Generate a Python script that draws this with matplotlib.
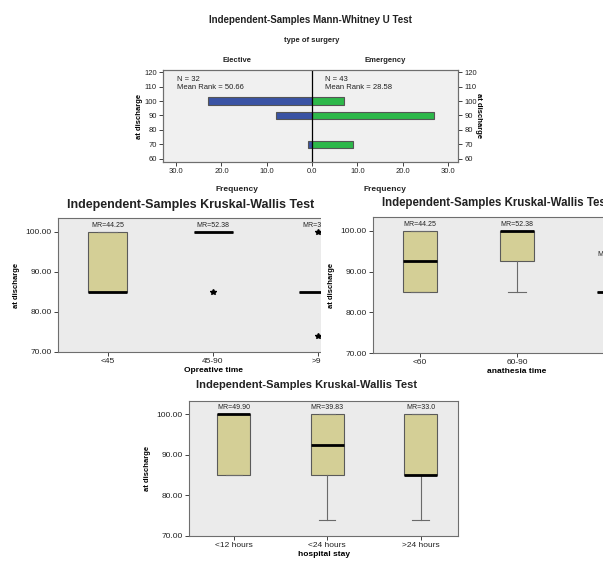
import matplotlib
matplotlib.use("Agg")
import matplotlib.pyplot as plt
from matplotlib.patches import Rectangle

plt.rcParams['font.family'] = ['Liberation Sans', 'DejaVu Sans']

W, H = 603, 562

# ---------------- data ----------------
mw_levels = [100, 90, 70]
mw_elective = [23, 8, 1]
mw_emergency = [7, 27, 9]
mw_groups = ["Elective", "Emergency"]
mw_n = [32, 43]
mw_mean_rank = ["50.66", "28.58"]
mw_yticks = [60, 70, 80, 90, 100, 110, 120]
mw_xticks = [-30, -20, -10, 0, 10, 20, 30]

op_cats = ["<45", "45-90", ">90"]
op_q1 = [85, 100, 85]
op_med = [85, 100, 85]
op_q3 = [100, 100, 85]
op_wlo = [85, 100, 85]
op_whi = [100, 100, 85]
op_fliers = [[], [85], [100, 74]]
op_mr = ["44.25", "52.38", "30.67"]

an_cats = ["<60", "60-90", ">90"]
an_q1 = [85, 92.5, 85]
an_med = [92.5, 100, 85]
an_q3 = [100, 100, 85]
an_wlo = [85, 85, 85]
an_whi = [100, 100, 92.5]
an_fliers = [[], [], []]
an_mr = ["44.25", "52.38", "30.67"]

hs_cats = ["<12 hours", "<24 hours", ">24 hours"]
hs_q1 = [85, 85, 85]
hs_med = [100, 92.5, 85]
hs_q3 = [100, 100, 100]
hs_wlo = [85, 74, 74]
hs_whi = [100, 100, 100]
hs_fliers = [[], [], []]
hs_mr = ["49.90", "39.83", "33.0"]

kw_yticks = [70, 80, 90, 100]

# ---------------- styles ----------------
BG_MW = '#F0F0F0'
BG_KW = '#EBEBEB'
BOX = '#D4CF96'
EDGE = '#5A5A5A'
WHISK = '#6A6A6A'
SPINE = '#6E6E6E'
BLUE = '#3A53A4'
GREEN = '#2DB84A'
TXT = '#222222'

fig = plt.figure(figsize=(W / 100, H / 100), dpi=100)
fig.patch.set_facecolor('white')


def rect(l, t, r, b):
    return [l / W, 1 - b / H, (r - l) / W, (b - t) / H]


def ftext(x, y, s, **kw):
    fig.text(x / W, 1 - y / H, s, **kw)


def style_spines(ax):
    for sp in ax.spines.values():
        sp.set_color(SPINE)
        sp.set_linewidth(0.8)


# ---------------- Mann-Whitney panel ----------------
ax = fig.add_axes(rect(163, 70, 458, 162))
ax.set_facecolor(BG_MW)
ax.barh(mw_levels, [-v for v in mw_elective], height=5, color=BLUE,
        edgecolor='#555555', linewidth=0.8, zorder=3)
ax.barh(mw_levels, mw_emergency, height=5, color=GREEN,
        edgecolor='#555555', linewidth=0.8, zorder=3)
ax.axvline(0, color='black', linewidth=0.9, zorder=4)
ax.set_xlim(-32.9, 32.2)
ax.set_ylim(57.9, 121.4)
ax.set_xticks(mw_xticks)
ax.set_xticklabels([f"{abs(v):.1f}" for v in mw_xticks])
ax.set_yticks(mw_yticks)
ax.tick_params(labelsize=5.5, colors=TXT, length=3, width=0.6, pad=1.5)
ax.set_ylabel("at discharge", fontsize=5.5, fontweight='bold', labelpad=1)
style_spines(ax)
ax2 = ax.twinx()
ax2.set_ylim(ax.get_ylim())
ax2.set_yticks(mw_yticks)
ax2.tick_params(labelsize=5.5, colors=TXT, length=3, width=0.6, pad=1.5)
ax2.set_ylabel("at discharge", fontsize=5.5, fontweight='bold', rotation=270, labelpad=4)
style_spines(ax2)

ax.text(-29.8, 114.5, f"N = {mw_n[0]}", fontsize=5.5, va='center', ha='left', color=TXT)
ax.text(-29.8, 109.0, f"Mean Rank = {mw_mean_rank[0]}", fontsize=5.5, va='center', ha='left', color=TXT)
ax.text(2.9, 114.5, f"N = {mw_n[1]}", fontsize=5.5, va='center', ha='left', color=TXT)
ax.text(2.9, 109.0, f"Mean Rank = {mw_mean_rank[1]}", fontsize=5.5, va='center', ha='left', color=TXT)

ftext(310, 20, "Independent-Samples Mann-Whitney U Test", fontsize=7, fontweight='bold',
      ha='center', va='center', color=TXT)
ftext(312, 40, "type of surgery", fontsize=5.5, fontweight='bold', ha='center', va='center', color=TXT)
ftext(237, 61, mw_groups[0], fontsize=5.5, fontweight='bold', ha='center', va='center', color=TXT)
ftext(385, 61, mw_groups[1], fontsize=5.5, fontweight='bold', ha='center', va='center', color=TXT)
ftext(237, 189, "Frequency", fontsize=6, fontweight='bold', ha='center', va='center', color=TXT)
ftext(385, 189, "Frequency", fontsize=6, fontweight='bold', ha='center', va='center', color=TXT)


# ---------------- Kruskal-Wallis panels ----------------
def kw_panel(pos, xlim, ylim, cats, q1, med, q3, wlo, whi, fl, mr, xlabel, box_w, zorder):
    a = fig.add_axes(pos, zorder=zorder)
    a.set_facecolor(BG_KW)
    stats = [dict(q1=q1[i], med=med[i], q3=q3[i], whislo=wlo[i], whishi=whi[i], fliers=fl[i])
             for i in range(len(cats))]
    a.bxp(stats, positions=list(range(1, len(cats) + 1)), widths=box_w, patch_artist=True,
          showfliers=True,
          boxprops=dict(facecolor=BOX, edgecolor=EDGE, linewidth=0.8),
          medianprops=dict(color='black', linewidth=2, solid_capstyle='butt'),
          whiskerprops=dict(color=WHISK, linewidth=0.8),
          capprops=dict(color=WHISK, linewidth=0.8),
          flierprops=dict(marker='*', markerfacecolor='black', markeredgecolor='black',
                          markersize=4, linestyle='none'))
    for i in range(len(cats)):
        top = max([q3[i], whi[i]] + list(fl[i]))
        a.text(i + 1, top + 1.6, "MR=" + mr[i], ha='center', va='center', fontsize=5, color=TXT)
    a.set_xlim(*xlim)
    a.set_ylim(*ylim)
    a.set_xticks(list(range(1, len(cats) + 1)))
    a.set_xticklabels(cats)
    a.set_yticks(kw_yticks)
    a.set_yticklabels([f"{v:.2f}" for v in kw_yticks])
    a.tick_params(labelsize=6, colors=TXT, length=3, width=0.6, pad=1.5)
    a.set_xlabel(xlabel, fontsize=6, fontweight='bold', labelpad=1.5)
    a.set_ylabel("at discharge", fontsize=5.5, fontweight='bold', labelpad=4)
    style_spines(a)
    return a


axL = kw_panel(rect(58, 218, 370, 352), (0.528, 3.49), (70, 103.5),
               op_cats, op_q1, op_med, op_q3, op_wlo, op_whi, op_fliers, op_mr,
               "Opreative time", 0.37, 0)
ftext(191, 205, "Independent-Samples Kruskal-Wallis Test", fontsize=9, fontweight='bold',
      ha='center', va='center', color=TXT)

# white strip: the right panel covers the end of the left one
fig.add_artist(Rectangle((321 / W, 1 - 380 / H), (373 - 321) / W, (380 - 210) / H,
                         transform=fig.transFigure, facecolor='white', edgecolor='none', zorder=1))

axR = kw_panel(rect(373, 217, 661, 353), (0.515, 3.485), (70, 103.4),
               an_cats, an_q1, an_med, an_q3, an_wlo, an_whi, an_fliers, an_mr,
               "anathesia time", 0.36, 2)
ftext(382, 203, "Independent-Samples Kruskal-Wallis Test", fontsize=8.3, fontweight='bold',
      ha='left', va='center', color=TXT, zorder=3)

axB = kw_panel(rect(189, 401, 458, 536), (0.52, 3.4), (70, 103.2),
               hs_cats, hs_q1, hs_med, hs_q3, hs_wlo, hs_whi, hs_fliers, hs_mr,
               "hospital stay", 0.35, 0)
ftext(307, 385, "Independent-Samples Kruskal-Wallis Test", fontsize=8.0, fontweight='bold',
      ha='center', va='center', color=TXT)

fig.savefig("out.png", dpi=100, facecolor='white')
